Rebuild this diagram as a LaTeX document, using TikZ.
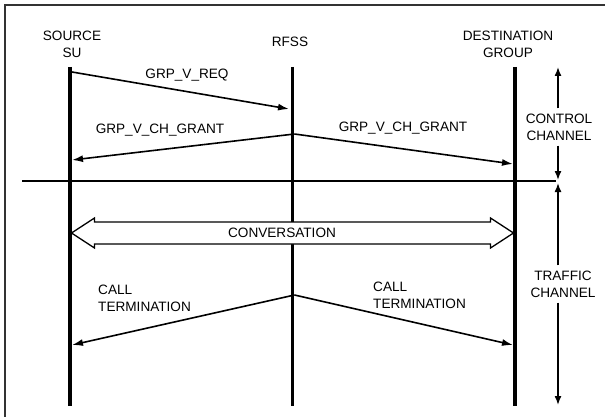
\documentclass[tikz,border=0pt]{standalone}
\usepackage{fontspec}
\setmainfont{Liberation Sans}
\usetikzlibrary{arrows.meta,calc}

\tikzset{
  life/.style={line width=3.8pt},
  msg/.style={line width=1.6pt, -{Latex[length=11pt,width=7pt]}},
  chan/.style={line width=1.5pt, -{Latex[length=9pt,width=7pt]}},
  lbl/.style={font=\fontsize{13.6}{17}\selectfont, inner sep=3pt},
}

\begin{document}
\begin{tikzpicture}[x=1pt,y=-1pt]
  \useasboundingbox (0,0) rectangle (605,417);
  % frame
  \draw[line width=2pt, black!80] (5,417) -- (5,5) -- (605,5);

  % lifelines
  \coordinate (s1) at (70,67);   \coordinate (s2) at (70,406);
  \coordinate (r1) at (292.5,67);  \coordinate (r2) at (292.5,406);
  \coordinate (d1) at (515,67);  \coordinate (d2) at (515,406);
  \draw[life] (s1) -- (s2);
  \draw[life] (r1) -- (r2);
  \draw[life] (d1) -- (d2);

  \node[lbl, align=center] (src) at (72,44) {SOURCE\\SU};
  \node[lbl] (rfss) at (290,42) {RFSS};
  \node[lbl, align=center] (dst) at (508,44) {DESTINATION\\GROUP};

  % control channel messages
  \coordinate (req0) at (72,72);   \coordinate (req1) at (289,109);
  \coordinate (gnt0) at (294.5,134); \coordinate (gntS) at (72,160);
  \coordinate (gntD) at (513,164);
  \draw[msg] (req0) -- (req1);
  \draw[msg] (gnt0) -- (gntS);
  \draw[msg] (gnt0) -- (gntD);
  \node[lbl] (req) at (187,75) {GRP\_V\_REQ};
  \node[lbl] (gntl) at (160,130) {GRP\_V\_CH\_GRANT};
  \node[lbl] (gntr) at (403,128) {GRP\_V\_CH\_GRANT};

  % separator
  \coordinate (sepL) at (22,181); \coordinate (sepR) at (556,181);
  \draw[line width=1.3pt] (sepL) -- (sepR);

  % conversation
  \coordinate (cl) at (71.5,233); \coordinate (cr) at (513.5,233);
  \draw[line width=1.3pt, fill=white] (cl) -- ++(23,-15) -- ++(0,4)
    -- ($(cr)+(-23,-11)$) -- ++(0,-4) -- (cr) -- ++(-23,15) -- ++(0,-4)
    -- ($(cl)+(23,11)$) -- ++(0,4) -- cycle;
  \node[lbl] (conv) at (282,233) {CONVERSATION};

  % call termination
  \coordinate (ct0) at (294.5,295);
  \coordinate (ctS) at (72,345); \coordinate (ctD) at (513,345);
  \draw[msg] (ct0) -- (ctS);
  \draw[msg] (ct0) -- (ctD);
  \node[lbl, align=left, anchor=west] (ctl) at (95,298) {CALL\\TERMINATION};
  \node[lbl, align=left, anchor=west] (ctr) at (370,295) {CALL\\TERMINATION};

  % channel markers
  \coordinate (ctop) at (558,67);  \coordinate (cbot) at (558,180);
  \coordinate (ttop) at (558,183); \coordinate (tbot) at (558,405);
  \node[lbl, align=center, inner ysep=5pt] (ctrl) at (559,127) {CONTROL\\CHANNEL};
  \node[lbl, align=center, inner ysep=5pt] (trf) at (563,284) {TRAFFIC\\CHANNEL};
  \draw[chan] (ctrl.north -| ctop) -- (ctop);
  \draw[chan] (ctrl.south -| cbot) -- (cbot);
  \draw[chan] (trf.north -| ttop) -- (ttop);
  \draw[chan] (trf.south -| tbot) -- (tbot);
\end{tikzpicture}
\end{document}
